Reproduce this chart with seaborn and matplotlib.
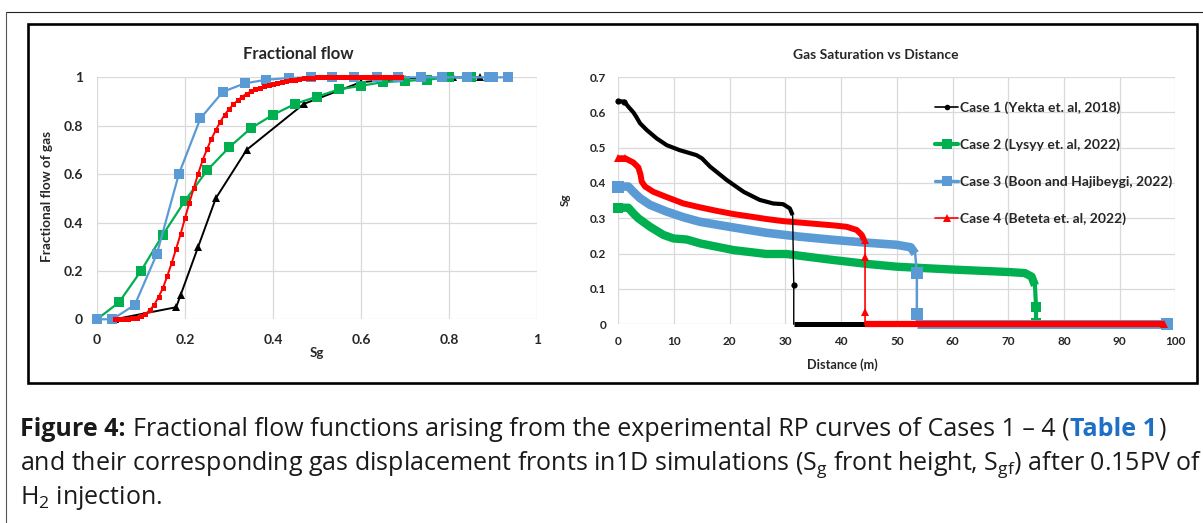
import numpy as np
import pandas as pd
import matplotlib
matplotlib.use("Agg")
import matplotlib.pyplot as plt
import seaborn as sns
from matplotlib.lines import Line2D
from matplotlib.patches import Rectangle

# ---------------- data: fractional flow (left) ----------------
ff_c1_sg = [0.04, 0.18, 0.19, 0.23, 0.27, 0.34, 0.47, 0.60, 0.70, 0.81, 0.87]
ff_c1_fg = [0.0, 0.05, 0.10, 0.30, 0.50, 0.70, 0.89, 0.98, 0.995, 1.0, 1.0]

ff_c2_sg = [0.0, 0.05, 0.10, 0.15, 0.20, 0.25, 0.30, 0.35, 0.40, 0.45, 0.50, 0.55,
            0.60, 0.65, 0.70, 0.75, 0.80, 0.85]
ff_c2_fg = [0.0, 0.07, 0.20, 0.35, 0.49, 0.615, 0.71, 0.79, 0.845, 0.89, 0.92, 0.95,
            0.965, 0.98, 0.985, 0.99, 1.0, 1.0]

ff_c3_sg = [0.0, 0.035, 0.086, 0.136, 0.186, 0.235, 0.286, 0.336, 0.385, 0.436, 0.486,
            0.535, 0.585, 0.636, 0.685, 0.736, 0.785, 0.84, 0.89, 0.90, 0.935]
ff_c3_fg = [0.0, 0.0, 0.06, 0.27, 0.60, 0.83, 0.94, 0.975, 0.99, 0.997, 1.0,
            1.0, 1.0, 1.0, 1.0, 1.0, 1.0, 1.0, 1.0, 1.0, 1.0]

ff_c4_sg = [0.04, 0.05, 0.06, 0.07, 0.08, 0.09, 0.10, 0.11, 0.12, 0.13, 0.14, 0.15,
            0.16, 0.17, 0.18, 0.19, 0.20, 0.21, 0.22, 0.23, 0.24, 0.25, 0.26, 0.27,
            0.28, 0.29, 0.30, 0.31, 0.32, 0.33, 0.34, 0.35, 0.36, 0.37, 0.38, 0.39,
            0.40, 0.41, 0.42, 0.43, 0.44, 0.45, 0.46, 0.47, 0.48, 0.49, 0.50, 0.51,
            0.52, 0.53, 0.54, 0.55, 0.56, 0.57, 0.58, 0.59, 0.60, 0.61, 0.62, 0.63,
            0.64, 0.65, 0.66, 0.67, 0.68, 0.69]
ff_c4_fg = [0.0, 0.0, 0.001, 0.002, 0.004, 0.007, 0.012, 0.022, 0.038, 0.060, 0.092, 0.130,
            0.180, 0.234, 0.292, 0.352, 0.418, 0.482, 0.543, 0.602, 0.657, 0.703, 0.745, 0.782,
            0.815, 0.845, 0.868, 0.888, 0.905, 0.920, 0.932, 0.942, 0.950, 0.957, 0.962, 0.967,
            0.971, 0.975, 0.979, 0.983, 0.987, 0.990, 0.993, 0.996, 0.998, 0.999, 1.0, 1.0,
            1.0, 1.0, 1.0, 1.0, 1.0, 1.0, 1.0, 1.0, 1.0, 1.0, 1.0, 1.0,
            1.0, 1.0, 1.0, 1.0, 1.0, 1.0]

ff_xticks = [0, 0.2, 0.4, 0.6, 0.8, 1.0]
ff_xticklabels = ["0", "0.2", "0.4", "0.6", "0.8", "1"]
ff_yticks = [0, 0.2, 0.4, 0.6, 0.8, 1.0]
ff_yticklabels = ["0", "0.2", "0.4", "0.6", "0.8", "1"]

# ---------------- data: saturation profiles (right) ----------------
c1_prof_x = [0, 1.1, 1.8, 2.7, 3.2, 3.9, 5.1, 6.9, 8.7, 11, 14, 15, 16.5, 19.5, 22.5,
             25.4, 27.8, 29.6, 30.8, 31.3]
c1_prof_y = [0.632, 0.63, 0.616, 0.60, 0.588, 0.569, 0.55, 0.526, 0.507, 0.493, 0.479,
             0.47, 0.446, 0.408, 0.375, 0.352, 0.342, 0.34, 0.328, 0.309]
c1_front_x = [31.5, 31.5]
c1_front_y = [0.11, 0.0]
c1_tail_x = [31.5, 44.5]
c1_tail_y = [0.0, 0.0]

c2_prof_x = [0, 1.8, 2.7, 3.6, 5.7, 8.1, 9.9, 12.3, 14.7, 20.7, 26.6, 30.2, 32.6, 38.6,
             44.6, 50, 60, 70, 73, 74.2, 74.8]
c2_prof_y = [0.33, 0.33, 0.314, 0.30, 0.276, 0.253, 0.243, 0.24, 0.229, 0.21, 0.199,
             0.199, 0.194, 0.182, 0.171, 0.163, 0.155, 0.148, 0.145, 0.135, 0.11]
c2_front_x = [75.0, 75.0]
c2_front_y = [0.05, 0.005]

c3_prof_x = [0, 1.8, 2.7, 3.9, 5.7, 8.7, 11.7, 14.7, 20.7, 26.6, 32.6, 38.6, 44.6, 50,
             52.5, 53.3]
c3_prof_y = [0.39, 0.39, 0.375, 0.357, 0.338, 0.319, 0.303, 0.29, 0.274, 0.259, 0.248,
             0.239, 0.231, 0.225, 0.218, 0.20]
c3_front_x = [53.6, 53.6]
c3_front_y = [0.145, 0.03]
c3_tail_x = [53.6, 98.5]
c3_tail_y = [0.0, 0.0]

c4_prof_x = [0, 1.2, 2.7, 3.6, 4.0, 4.2, 4.8, 6.3, 8.7, 11.7, 14.7, 17.7, 20.7, 23.7,
             26.6, 29.6, 32.6, 35.6, 38.6, 41, 42.8, 43.7, 44.1]
c4_prof_y = [0.47, 0.47, 0.458, 0.444, 0.423, 0.404, 0.39, 0.375, 0.36, 0.342, 0.331,
             0.321, 0.312, 0.305, 0.298, 0.292, 0.288, 0.284, 0.28, 0.276, 0.267, 0.253,
             0.239]
c4_front_x = [44.3, 44.3, 44.3]
c4_front_y = [0.24, 0.19, 0.036]
c4_tail_x = [44.3, 98.0]
c4_tail_y = [0.0, 0.0]

sat_xticks = [0, 10, 20, 30, 40, 50, 60, 70, 80, 90, 100]
sat_yticks = [0, 0.1, 0.2, 0.3, 0.4, 0.5, 0.6, 0.7]
sat_yticklabels = ["0", "0.1", "0.2", "0.3", "0.4", "0.5", "0.6", "0.7"]

case_labels = ["Case 1 (Yekta et. al, 2018)", "Case 2 (Lysyy et. al, 2022)",
               "Case 3 (Boon and Hajibeygi, 2022)", "Case 4 (Beteta et. al, 2022)"]

# ---------------- style ----------------
sns.set_style("white")
plt.rcParams["font.family"] = ["Lato", "DejaVu Sans"]

BLACK = "#000000"
GREEN = "#00B050"
BLUE = "#5B9BD5"
RED = "#FF0000"
GRID = "#d9d9d9"

W, H = 1203, 523
fig = plt.figure(figsize=(W / 100, H / 100), dpi=100)


def rect(x0, y0, x1, y1):
    return [x0 / W, 1 - y1 / H, (x1 - x0) / W, (y1 - y0) / H]


axL = fig.add_axes(rect(97, 77.3, 537, 319.3))
axR = fig.add_axes(rect(618.3, 77.0, 1175.3, 324.3))


def line(ax, x, y, **kw):
    df = pd.DataFrame({"x": x, "y": y})
    sns.lineplot(data=df, x="x", y="y", ax=ax, sort=False, estimator=None,
                 legend=False, **kw)
    ax.lines[-1].set_clip_on(False)


# ---- left panel ----
line(axL, ff_c1_sg, ff_c1_fg, color=BLACK, lw=1.4, marker="^", markersize=5.5,
     markeredgewidth=0, zorder=3)
line(axL, ff_c2_sg, ff_c2_fg, color=GREEN, lw=1.6, marker="s", markersize=7,
     markeredgewidth=0, zorder=4)
line(axL, ff_c3_sg, ff_c3_fg, color=BLUE, lw=1.6, marker="s", markersize=7,
     markeredgewidth=0, zorder=5)
line(axL, ff_c4_sg, ff_c4_fg, color=RED, lw=1.4, marker="s", markersize=3.6,
     markeredgewidth=0, zorder=6)

axL.set_xlim(0, 1)
axL.set_ylim(0, 1)
axL.set_xticks(ff_xticks)
axL.set_xticklabels(ff_xticklabels)
axL.set_yticks(ff_yticks)
axL.set_yticklabels(ff_yticklabels)
axL.grid(True, color=GRID, lw=0.9)
axL.set_axisbelow(True)
for s in axL.spines.values():
    s.set_visible(False)
axL.tick_params(length=0, labelsize=10, pad=10.5)
axL.tick_params(axis="y", pad=10)
for t in axL.get_xticklabels() + axL.get_yticklabels():
    t.set_fontweight("bold")
axL.set_xlabel("Sg", fontsize=9.5, fontweight="bold", va="center")
axL.xaxis.set_label_coords(0.5, -0.139)
axL.set_ylabel("Fractional flow of gas", fontsize=9.8, fontweight="bold", va="center")
axL.yaxis.set_label_coords(-0.114, 0.507)
fig.text(298 / W, 1 - 54 / H, "Fractional flow", fontsize=12, fontweight="bold",
         ha="center", va="center")

# ---- right panel ----
BAND = dict(solid_capstyle="butt", solid_joinstyle="round")
# case 2 (green)
line(axR, c2_prof_x, c2_prof_y, color=GREEN, lw=6.0, zorder=3, **BAND)
line(axR, [c2_prof_x[-1]] + c2_front_x, [c2_prof_y[-1]] + c2_front_y, color=GREEN,
     lw=3.0, zorder=3)
line(axR, c2_front_x, c2_front_y, color=GREEN, lw=0, marker="s", markersize=7,
     markeredgewidth=0, zorder=3)
line(axR, c2_prof_x[:1], c2_prof_y[:1], color=GREEN, lw=0, marker="s", markersize=7,
     markeredgewidth=0, zorder=3)
# case 3 (blue)
line(axR, c3_prof_x, c3_prof_y, color=BLUE, lw=6.2, zorder=4, **BAND)
line(axR, [c3_prof_x[-1]] + c3_front_x + c3_tail_x[:1],
     [c3_prof_y[-1]] + c3_front_y + c3_tail_y[:1], color=BLUE, lw=1.8, zorder=4)
line(axR, c3_tail_x, c3_tail_y, color=BLUE, lw=6.4, zorder=4, **BAND)
line(axR, c3_front_x, c3_front_y, color=BLUE, lw=0, marker="s", markersize=8,
     markeredgewidth=0, zorder=4)
line(axR, c3_prof_x[:1] + c3_tail_x[-1:], c3_prof_y[:1] + c3_tail_y[-1:], color=BLUE,
     lw=0, marker="s", markersize=8, markeredgewidth=0, zorder=4)
# case 4 (red)
line(axR, c4_prof_x, c4_prof_y, color=RED, lw=4.3, zorder=5, **BAND)
line(axR, [c4_prof_x[-1]] + c4_front_x + c4_tail_x[:1],
     [c4_prof_y[-1]] + c4_front_y + c4_tail_y[:1], color=RED, lw=1.2, zorder=5)
line(axR, c4_tail_x, c4_tail_y, color=RED, lw=4.5, zorder=5, **BAND)
line(axR, c4_front_x, c4_front_y, color=RED, lw=0, marker="^", markersize=6,
     markeredgewidth=0, zorder=5)
line(axR, c4_prof_x[:2] + c4_tail_x[-1:], c4_prof_y[:2] + c4_tail_y[-1:], color=RED,
     lw=0, marker="^", markersize=6, markeredgewidth=0, zorder=5)
# case 1 (black)
line(axR, c1_prof_x, c1_prof_y, color=BLACK, lw=3.0, zorder=6, **BAND)
line(axR, [c1_prof_x[-1]] + c1_front_x, [c1_prof_y[-1]] + c1_front_y, color=BLACK,
     lw=1.0, zorder=6)
line(axR, c1_tail_x, c1_tail_y, color=BLACK, lw=3.6, zorder=4.5, **BAND)
line(axR, c1_front_x[:1], c1_front_y[:1], color=BLACK, lw=0, marker="o", markersize=4.5,
     markeredgewidth=0, zorder=6)
line(axR, c1_prof_x[:2], c1_prof_y[:2], color=BLACK, lw=0, marker="o", markersize=4.5,
     markeredgewidth=0, zorder=6)

axR.set_xlim(0, 100)
axR.set_ylim(0, 0.7)
axR.set_xticks(sat_xticks)
axR.set_yticks(sat_yticks)
axR.set_yticklabels(sat_yticklabels)
axR.grid(True, color=GRID, lw=0.9)
axR.set_axisbelow(True)
for s in axR.spines.values():
    s.set_visible(False)
axR.tick_params(length=0, labelsize=8.5, pad=8.5)
for t in axR.get_xticklabels() + axR.get_yticklabels():
    t.set_fontweight("bold")
axR.set_xlabel("Distance (m)", fontsize=9.2, fontweight="bold", va="center")
axR.xaxis.set_label_coords(0.403, -0.165)
axR.set_ylabel("Sg", fontsize=8.5, fontweight="bold", va="center")
axR.yaxis.set_label_coords(-0.0957, 0.503)
fig.text(876 / W, 1 - 55 / H, "Gas Saturation vs Distance", fontsize=10, fontweight="bold",
         ha="center", va="center")

handles = [
    Line2D([], [], color=BLACK, lw=1.2, marker="o", markersize=4, markeredgewidth=0),
    Line2D([], [], color=GREEN, lw=3.0, marker="s", markersize=6.5, markeredgewidth=0),
    Line2D([], [], color=BLUE, lw=2.4, marker="s", markersize=7, markeredgewidth=0),
    Line2D([], [], color=RED, lw=1.2, marker="^", markersize=5.5, markeredgewidth=0),
]
leg = axR.legend(handles, case_labels, loc="upper left", bbox_to_anchor=(0.557, 0.93),
                 frameon=False, borderpad=0, handlelength=1.65, handletextpad=0.12,
                 labelspacing=1.75, prop={"family": ["Lato", "DejaVu Sans"],
                                          "weight": "bold", "size": 10})

# ---- frames ----
fig.add_artist(Rectangle((27.5 / W, 1 - 383 / H), (1197 - 27.5) / W, (383 - 24) / H,
                         transform=fig.transFigure, fill=False, ec="black", lw=1.9))
fig.add_artist(Line2D([6 / W, 1.0], [1 - 12 / H, 1 - 12 / H], transform=fig.transFigure,
                      color="#222222", lw=0.8))
fig.add_artist(Line2D([6 / W, 6 / W], [0, 1 - 12 / H], transform=fig.transFigure,
                      color="#555555", lw=0.8))

# ---- caption ----
CAP_FONT = ["Open Sans", "DejaVu Sans"]
CAP_SIZE = 18.0
CAP_COLOR = "#1a1a1a"
renderer = fig.canvas.get_renderer()
x = 20.0
y1 = 1 - 436 / H
runs = [
    ("Figure 4:", dict(fontweight="bold", color=CAP_COLOR), 0),
    ("Fractional flow functions arising from the experimental RP curves of Cases 1 \u2013 4 (",
     dict(color=CAP_COLOR), 1),
    ("Table 1", dict(fontweight="bold", color="#1F6FC5"), 0),
    (")", dict(color=CAP_COLOR), 0),
]
space_px = 0.26 * CAP_SIZE * 100 / 72
for txt, kw, gap in runs:
    x += gap * space_px
    t = fig.text(x / W, y1, txt, fontsize=CAP_SIZE, family=CAP_FONT, va="baseline",
                 ha="left", **kw)
    x = t.get_window_extent(renderer=renderer).x1 + 0.8
fig.text(20 / W, 1 - 470 / H,
         r"and their corresponding gas displacement fronts in1D simulations "
         r"($\mathregular{S_g}$ front height, $\mathregular{S_{gf}}$) after 0.15PV of",
         fontsize=CAP_SIZE, family=CAP_FONT, color=CAP_COLOR, va="baseline", ha="left")
fig.text(20 / W, 1 - 504 / H, r"$\mathregular{H_2}$ injection.",
         fontsize=CAP_SIZE, family=CAP_FONT, color=CAP_COLOR, va="baseline", ha="left")

fig.savefig("out.png", dpi=100)
